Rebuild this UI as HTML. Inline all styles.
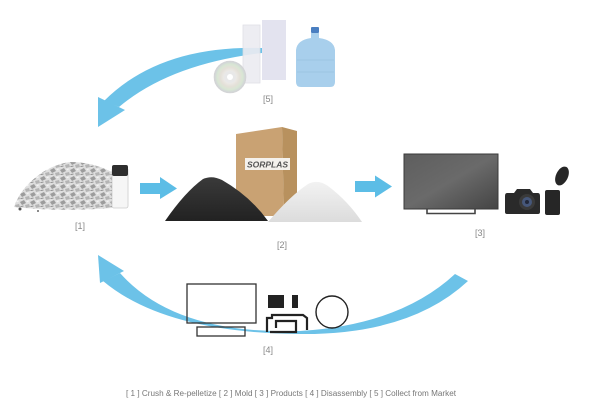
<!DOCTYPE html>
<html>
<head>
<meta charset="utf-8">
<style>
html,body{margin:0;padding:0;background:#fff;}
svg{display:block;}
text{font-family:"Liberation Sans",sans-serif;}
</style>
</head>
<body>
<svg width="600" height="410" viewBox="0 0 600 410" xmlns="http://www.w3.org/2000/svg">
<defs>
  <pattern id="fl" width="10" height="8" patternUnits="userSpaceOnUse">
    <rect width="10" height="8" fill="#dedede"/>
    <path d="M0 2 L4 0 L6 3 L2 5Z" fill="#9c9c9c"/>
    <path d="M5 5 L9 4 L10 7 L6 8Z" fill="#b4b4b4"/>
    <path d="M6 1 L9 0.5 L8 2.5Z" fill="#f4f4f4"/>
    <path d="M0.5 6.5 L3.5 6" stroke="#7a7a7a" stroke-width="0.8"/>
  </pattern>
  <linearGradient id="blk" x1="0" y1="0" x2="0" y2="1">
    <stop offset="0" stop-color="#3a3a3a"/><stop offset="1" stop-color="#222"/>
  </linearGradient>
  <linearGradient id="wht" x1="0" y1="0" x2="0" y2="1">
    <stop offset="0" stop-color="#f2f2f2"/><stop offset="1" stop-color="#dcdcdc"/>
  </linearGradient>
  <linearGradient id="tv" x1="0" y1="0" x2="1" y2="1">
    <stop offset="0" stop-color="#5e5e5e"/><stop offset="0.5" stop-color="#6a6a6a"/><stop offset="1" stop-color="#444"/>
  </linearGradient>
  <radialGradient id="cd" cx="0.5" cy="0.5" r="0.5">
    <stop offset="0.2" stop-color="#f2f2f2"/><stop offset="0.6" stop-color="#e4e0d8"/><stop offset="0.8" stop-color="#d8e6d4"/><stop offset="1" stop-color="#d0d0d8"/>
  </radialGradient>
</defs>

<!-- Top arrow (5 -> 1) -->
<path d="M262,48 Q160,45 104,101 L119,107 Q170,64 262,53 Z" fill="#6cc2e8"/>
<polygon points="98,97 125,110 98,127" fill="#6cc2e8"/>

<!-- [5] Collect from Market -->
<rect x="243" y="25" width="17" height="58" fill="#ececf1" stroke="#dcdce4" stroke-width="0.8" opacity="0.9"/>
<rect x="262" y="20" width="24" height="60" fill="#e2e2ee" opacity="0.95"/>
<circle cx="230" cy="77" r="16" fill="url(#cd)" stroke="#d4d4d4" stroke-width="0.6"/>
<circle cx="230" cy="77" r="6" fill="#e8e8e8"/>
<circle cx="230" cy="77" r="3" fill="#fff"/>
<!-- water jug -->
<path d="M311,33 L319,33 L319,38 Q334,40 335,50 L335,82 Q335,87 330,87 L301,87 Q296,87 296,82 L296,50 Q297,40 311,38 Z" fill="#a8cfec"/>
<rect x="311" y="27" width="8" height="6" rx="1" fill="#4a7fc1"/>
<line x1="297" y1="60" x2="334" y2="60" stroke="#9cc4e2" stroke-width="1"/>
<line x1="297" y1="72" x2="334" y2="72" stroke="#9cc4e2" stroke-width="1"/>
<text x="268" y="102" font-size="9" fill="#888" text-anchor="middle">[5]</text>

<!-- [1] Crush & Re-pelletize -->
<path d="M14,207 Q20,190 35,178 Q50,165 70,162 Q92,162 112,172 L112,208 Q60,212 14,207 Z" fill="url(#fl)"/>
<circle cx="20" cy="209" r="1.5" fill="#555"/>
<circle cx="38" cy="211" r="1" fill="#666"/>
<rect x="112" y="168" width="16" height="40" rx="2" fill="#f6f6f6" stroke="#ccc" stroke-width="0.8"/>
<rect x="112" y="165" width="16" height="11" rx="2" fill="#2e2e2e"/>
<text x="80" y="229" font-size="9" fill="#888" text-anchor="middle">[1]</text>

<!-- arrow 1 -> 2 -->
<rect x="140" y="183" width="21" height="11" fill="#5cbde6"/>
<polygon points="160,177 177,188.5 160,199" fill="#5cbde6"/>

<!-- [2] Mold -->
<polygon points="236,134 282,127 284,216 236,216" fill="#c9a273"/>
<polygon points="282,127 297,131 297,205 284,216" fill="#b8915e"/>
<rect x="245" y="158" width="45" height="12" fill="#f4f1ec"/>
<text x="267.5" y="167.5" font-size="8.5" font-weight="bold" font-style="italic" fill="#555" text-anchor="middle">SORPLAS</text>
<path d="M165,221 Q185,192 203,179 Q212,175 222,180 Q250,196 268,221 Z" fill="url(#blk)"/>
<path d="M268,222 Q290,196 308,184 Q318,179 328,186 Q348,201 362,222 Z" fill="url(#wht)"/>
<text x="282" y="248" font-size="9" fill="#888" text-anchor="middle">[2]</text>

<!-- arrow 2 -> 3 -->
<rect x="355" y="181" width="21" height="11" fill="#5cbde6"/>
<polygon points="375,175.5 392,186.5 375,197.5" fill="#5cbde6"/>

<!-- [3] Products -->
<rect x="404" y="154" width="94" height="55" fill="url(#tv)" stroke="#3a3a3a" stroke-width="1"/>
<path d="M427,209 L427,213.5 L475,213.5 L475,209" fill="none" stroke="#444" stroke-width="1.6"/>
<!-- camera -->
<path d="M507,193 L514,193 L517,189 L530,189 L533,193 L538,193 Q540,193 540,196 L540,212 Q540,214 538,214 L507,214 Q505,214 505,212 L505,196 Q505,193 507,193 Z" fill="#2a2a2a"/>
<circle cx="527" cy="202" r="8" fill="#3a3a3a"/>
<circle cx="527" cy="202" r="5" fill="#46577a"/>
<circle cx="527" cy="202" r="2" fill="#22283a"/>
<!-- action cam -->
<rect x="545" y="190" width="15" height="25" rx="2" fill="#262626"/>
<ellipse cx="562" cy="176" rx="6" ry="10" transform="rotate(25 562 176)" fill="#262626"/>
<text x="480" y="236" font-size="9" fill="#888" text-anchor="middle">[3]</text>

<!-- Bottom arrow (3/4 -> 1) -->
<path d="M120,273 Q175,335 300,331 L300,334 Q165,333 103,281 Z" fill="#6cc2e8"/>
<path d="M300,331 Q400,325 455,274 L468,281 Q410,335 300,334 Z" fill="#6cc2e8"/>
<polygon points="98,255 124,271 100,283" fill="#6cc2e8"/>

<!-- [4] Disassembly -->
<rect x="187" y="284" width="69" height="39" fill="none" stroke="#333" stroke-width="1.3"/>
<rect x="197" y="327" width="48" height="9" fill="none" stroke="#333" stroke-width="1.3"/>
<rect x="268" y="295" width="16" height="13" fill="#222"/>
<rect x="292" y="295" width="6" height="13" fill="#222"/>
<path d="M267,332 L267,318 L272,318 L272,315 L303,315 L307,318 L307,330 M270,332 L296,332 L296,321 L276,321 L276,328" fill="none" stroke="#222" stroke-width="2.2"/>
<circle cx="332" cy="312" r="16" fill="none" stroke="#222" stroke-width="1.4"/>
<text x="268" y="353" font-size="9" fill="#888" text-anchor="middle">[4]</text>

<!-- caption -->
<text x="126" y="396" font-size="8" fill="#777" textLength="330" lengthAdjust="spacingAndGlyphs">[ 1 ] Crush &amp; Re-pelletize [ 2 ] Mold [ 3 ] Products [ 4 ] Disassembly [ 5 ] Collect from Market</text>
</svg>
</body>
</html>
